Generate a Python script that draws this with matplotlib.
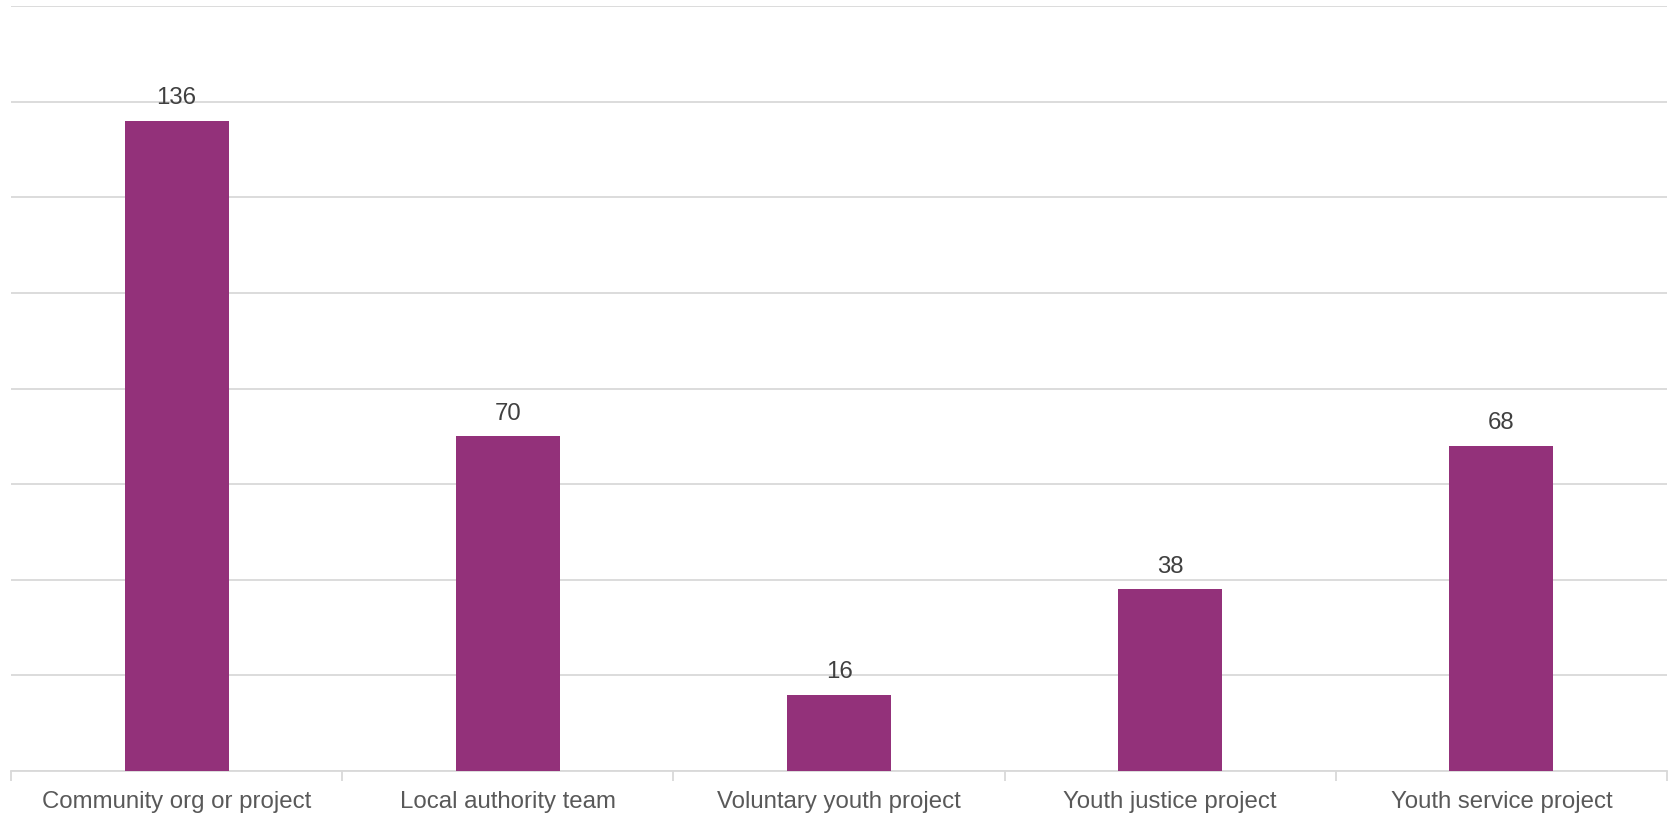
import matplotlib.pyplot as plt

categories = ['Community org or project', 'Local authority team', 'Voluntary youth project',
              'Youth justice project', 'Youth service project']
counts = [136, 70, 16, 38, 68]

plt.rcParams['font.family'] = ['Liberation Sans', 'DejaVu Sans']

fig = plt.figure(figsize=(16.69, 8.14), dpi=100)
ax = fig.add_axes([0.0066, 0.0528, 0.9922, 0.9398])

x = range(len(categories))
bars = ax.bar(x, counts, width=0.314, color='#93317A', zorder=3)
for b, v in zip(bars, counts):
    ax.annotate(str(v), (b.get_x() + b.get_width() / 2, v), xytext=(0, 8.5),
                textcoords='offset points', ha='center', va='bottom',
                fontsize=17.3, color='#404040')

ax.set_xlim(-0.5, len(categories) - 0.5)
ax.set_ylim(0, 160)
ax.set_yticks(range(0, 161, 20))
ax.yaxis.grid(True, color='#D9D9D9', linewidth=1.3, zorder=0)
ax.tick_params(axis='y', left=False, labelleft=False)

ax.set_xticks(x)
ax.set_xticklabels(categories, fontsize=17.3, color='#595959')
ax.set_xticks([i - 0.5 for i in range(len(categories) + 1)], minor=True)
ax.tick_params(axis='x', which='major', length=0, pad=14.5)
ax.tick_params(axis='x', which='minor', length=7, color='#D9D9D9', width=1.3)

for s in ['top', 'right', 'left']:
    ax.spines[s].set_visible(False)
ax.spines['bottom'].set_color('#D9D9D9')
ax.spines['bottom'].set_linewidth(1.3)

fig.savefig('out.png', dpi=100)
